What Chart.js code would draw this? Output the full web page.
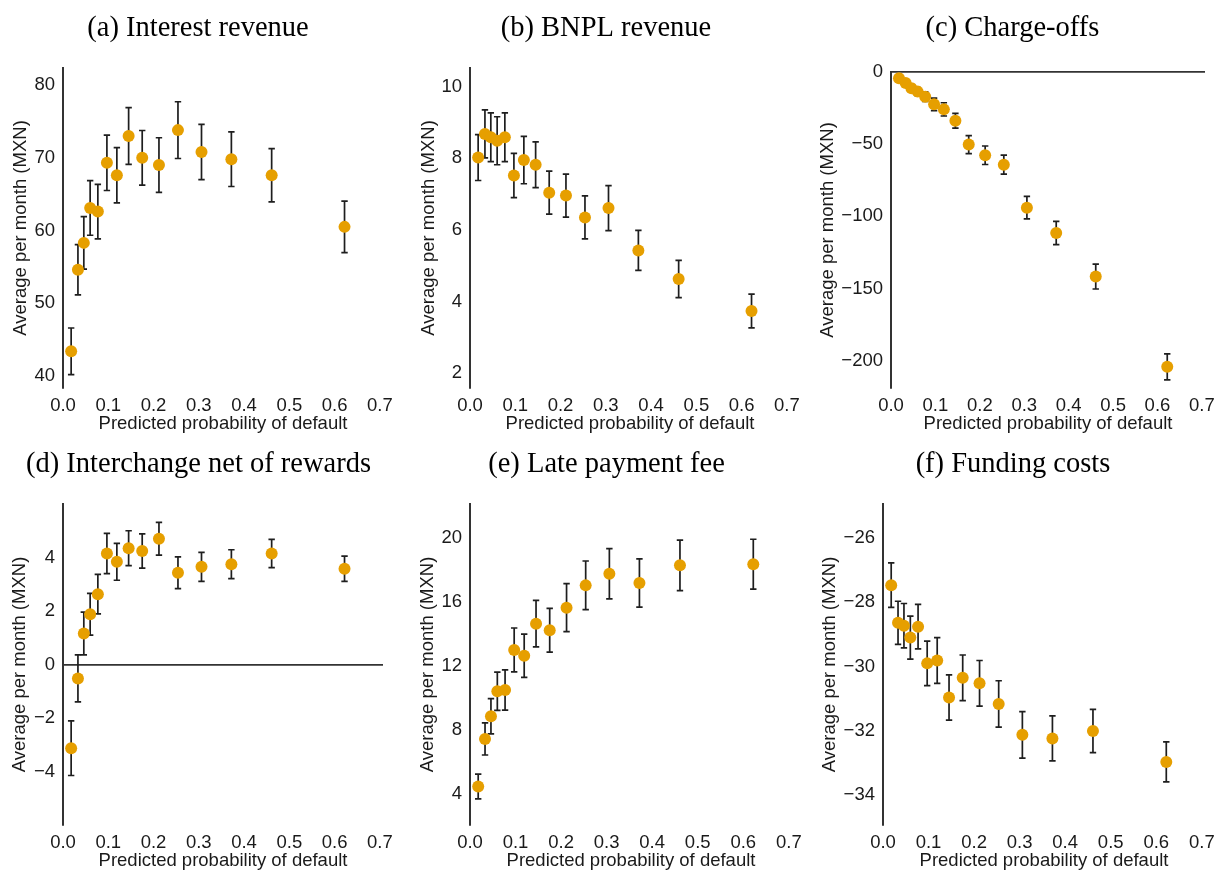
<!DOCTYPE html>
<html><head><meta charset="utf-8">
<script src="https://cdn.jsdelivr.net/npm/chart.js@4/dist/chart.umd.min.js"></script>
<style>
html,body{margin:0;padding:0;background:#fff;overflow:hidden;width:1217px;height:872px;}
#wrap{position:relative;width:1217px;height:872px;overflow:hidden;background:#fff;}
#wrap canvas{position:absolute;}
</style></head><body><div id="wrap"></div>
<script>
// ---- data ----
const pd = [0.018, 0.033, 0.046, 0.060, 0.077, 0.097, 0.119, 0.145, 0.175, 0.212, 0.254, 0.306, 0.372, 0.461, 0.622];

const interestRevenue = [43.4, 54.6, 58.3, 63.1, 62.6, 69.3, 67.6, 73.0, 70.0, 69.0, 73.8, 70.8, 69.8, 67.6, 60.5];
const interestErr     = [3.2, 3.45, 3.6, 3.75, 3.75, 3.8, 3.8, 3.9, 3.75, 3.75, 3.9, 3.8, 3.75, 3.65, 3.55];

const bnplRevenue = [8.02, 8.68, 8.59, 8.49, 8.59, 7.52, 7.95, 7.82, 7.04, 6.96, 6.35, 6.61, 5.43, 4.63, 3.74];
const bnplErr     = [0.64, 0.67, 0.68, 0.67, 0.68, 0.62, 0.66, 0.64, 0.60, 0.60, 0.60, 0.63, 0.56, 0.52, 0.47];

const chargeOffs = [-4.4, -7.7, -11.2, -13.6, -17.1, -22.4, -25.9, -33.8, -50.3, -57.7, -64.2, -94.0, -111.6, -141.8, -204.3];
const chargeErr  = [1.5, 2.0, 2.4, 2.8, 3.3, 4.3, 4.6, 5.1, 6.2, 6.4, 6.6, 7.8, 8.1, 8.6, 9.0];

const interchange    = [-3.13, -0.52, 1.16, 1.88, 2.63, 4.15, 3.84, 4.35, 4.24, 4.70, 3.43, 3.65, 3.75, 4.15, 3.58];
const interchangeErr = [1.02, 0.88, 0.80, 0.78, 0.74, 0.75, 0.69, 0.65, 0.64, 0.61, 0.59, 0.54, 0.54, 0.53, 0.47];

const lateFee    = [4.46, 7.43, 8.85, 10.41, 10.49, 12.99, 12.63, 14.63, 14.22, 15.63, 17.02, 17.75, 17.17, 18.27, 18.34];
const lateFeeErr = [0.77, 1.00, 1.10, 1.20, 1.26, 1.37, 1.35, 1.45, 1.37, 1.50, 1.52, 1.57, 1.51, 1.58, 1.56];

const funding    = [-27.47, -28.64, -28.73, -29.10, -28.76, -29.90, -29.81, -30.96, -30.35, -30.52, -31.16, -32.12, -32.23, -32.00, -32.96];
const fundingErr = [0.69, 0.67, 0.69, 0.67, 0.69, 0.69, 0.71, 0.70, 0.71, 0.71, 0.72, 0.72, 0.70, 0.67, 0.62];

const xTicks  = [0, 0.1, 0.2, 0.3, 0.4, 0.5, 0.6, 0.7];
const yTicksA = [40, 50, 60, 70, 80];
const yTicksB = [2, 4, 6, 8, 10];
const yTicksC = [-200, -150, -100, -50, 0];
const yTicksD = [-4, -2, 0, 2, 4];
const yTicksE = [4, 8, 12, 16, 20];
const yTicksF = [-34, -32, -30, -28, -26];

const titles = ['(a) Interest revenue', '(b) BNPL revenue', '(c) Charge-offs',
                '(d) Interchange net of rewards', '(e) Late payment fee', '(f) Funding costs'];
const yLabel = 'Average per month (MXN)';
const xLabel = 'Predicted probability of default';

// ---- layout (positions only) ----
const frames = [
  {vals: interestRevenue, errs: interestErr, ticks: yTicksA, min: 38.35, max: 82.34, L: -9,  T: 0,   W: 414, yW: 50, yPad: 2.4, top: 68, bottom: 388},
  {vals: bnplRevenue,     errs: bnplErr,     ticks: yTicksB, min: 1.59,  max: 10.52, L: 400, T: 0,   W: 412, yW: 48, yPad: 0.9, top: 68, bottom: 388},
  {vals: chargeOffs,      errs: chargeErr,   ticks: yTicksC, min: -219,  max: 0,     L: 798, T: 0,   W: 429, yW: 71, yPad: 1.9, top: 72, bottom: 388},
  {vals: interchange,     errs: interchangeErr, ticks: yTicksD, min: -6, max: 6,     L: -8,  T: 436, W: 413, yW: 49, yPad: 0.6, top: 68, bottom: 389},
  {vals: lateFee,         errs: lateFeeErr,  ticks: yTicksE, min: 2.06,  max: 22.1,  L: 399, T: 436, W: 415, yW: 49, yPad: 1.4, top: 68, bottom: 389},
  {vals: funding,         errs: fundingErr,  ticks: yTicksF, min: -34.92, max: -24.95, L: 799, T: 436, W: 428, yW: 62, yPad: 3.6, top: 68, bottom: 389}
];
const H = 436, SIDE = 22, XH = 47, TITLE_TOP = 11;

const errorBars = {
  id: 'errorBars',
  beforeDatasetsDraw(chart) {
    const {ctx, scales: {x, y}} = chart;
    const ds = chart.data.datasets[0];
    ctx.save();
    ctx.strokeStyle = '#1e1e1e';
    ctx.lineWidth = 1.7;
    ds.data.forEach((p, i) => {
      const e = ds.errs[i];
      const px = x.getPixelForValue(p.x);
      const y1 = y.getPixelForValue(p.y + e);
      const y2 = y.getPixelForValue(p.y - e);
      ctx.beginPath();
      ctx.moveTo(px, y1); ctx.lineTo(px, y2);
      ctx.moveTo(px - 3.2, y1); ctx.lineTo(px + 3.2, y1);
      ctx.moveTo(px - 3.2, y2); ctx.lineTo(px + 3.2, y2);
      ctx.stroke();
    });
    ctx.restore();
  }
};

const sans = "'Liberation Sans', Arial, Helvetica, sans-serif";
const serif = "'Liberation Serif', 'Times New Roman', serif";
const wrap = document.getElementById('wrap');

frames.forEach((f, k) => {
  const c = document.createElement('canvas');
  c.width = f.W; c.height = H;
  c.style.left = f.L + 'px'; c.style.top = f.T + 'px';
  c.style.width = f.W + 'px'; c.style.height = H + 'px';
  wrap.appendChild(c);
  new Chart(c, {
    type: 'scatter',
    data: {
      datasets: [{
        data: pd.map((x, i) => ({x: x, y: f.vals[i]})),
        errs: f.errs,
        backgroundColor: '#E69F00',
        borderWidth: 0,
        pointRadius: 6,
        pointHoverRadius: 6
      }]
    },
    options: {
      responsive: false,
      animation: false,
      devicePixelRatio: 1,
      layout: {padding: {left: SIDE, right: SIDE, top: 0, bottom: Math.max(0, H - f.bottom - XH)}},
      plugins: {
        legend: {display: false},
        tooltip: {enabled: false},
        title: {
          display: true, text: titles[k], color: '#000',
          font: {family: serif, size: 28.5, weight: 'normal', lineHeight: 1.2},
          padding: {top: TITLE_TOP, bottom: f.top - TITLE_TOP - 34.2}
        }
      },
      scales: {
        x: {
          type: 'linear', min: 0, max: 0.707,
          afterBuildTicks: s => { s.ticks = xTicks.map(v => ({value: v})); },
          afterFit: s => { s.height = Math.min(XH, H - f.bottom); },
          border: {display: false},
          grid: {display: false, drawTicks: false},
          ticks: {padding: 6.5, color: '#1a1a1a', font: {family: sans, size: 18.5},
                  maxRotation: 0, autoSkip: false, callback: v => Number(v).toFixed(1)},
          title: {display: true, text: xLabel, color: '#1a1a1a',
                  font: {family: sans, size: 18.5, lineHeight: 1.2}, padding: {top: 0, bottom: 0}}
        },
        y: {
          type: 'linear', min: f.min, max: f.max,
          afterBuildTicks: s => { s.ticks = f.ticks.map(v => ({value: v})); },
          afterFit: s => { s.width = f.yW; },
          border: {display: true, color: '#333', width: 2},
          grid: {display: true, drawTicks: false, lineWidth: 1.8,
                 color: ctx => (ctx.tick && ctx.tick.value === 0) ? '#333' : 'rgba(0,0,0,0)'},
          ticks: {padding: 8, color: '#1a1a1a', font: {family: sans, size: 18.5},
                  autoSkip: false, callback: v => String(v).replace('-', '\u2212')},
          title: {display: true, text: yLabel, color: '#1a1a1a',
                  font: {family: sans, size: 18.5, lineHeight: 0.6}, padding: {top: f.yPad, bottom: 0}}
        }
      }
    },
    plugins: [errorBars]
  });
});
</script>
</body></html>
